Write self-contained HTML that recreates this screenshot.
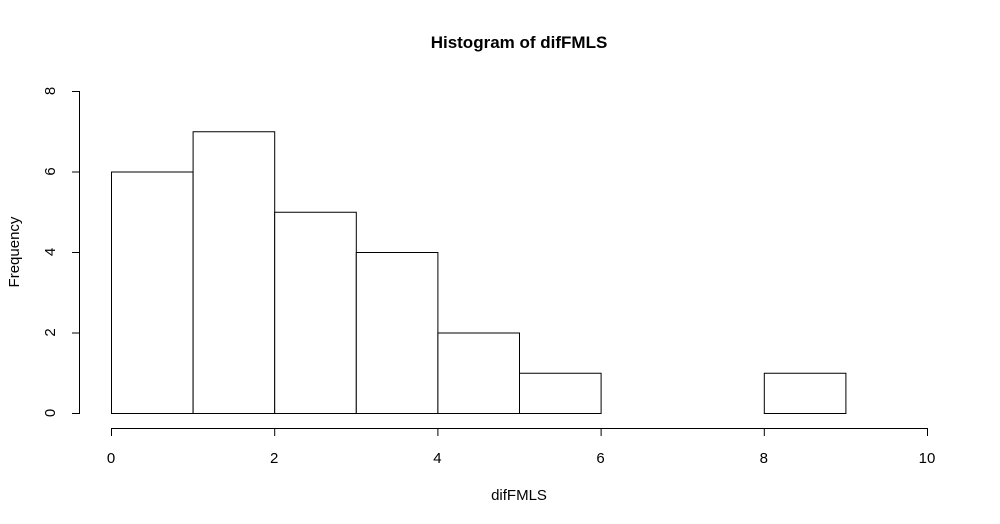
<!DOCTYPE html>
<html><head><meta charset="utf-8"><style>
body{margin:0;background:#fff}
svg{display:block;font-family:"Liberation Sans",Arial,sans-serif}
</style></head><body>
<svg id="chart" width="1000" height="524" viewBox="0 0 1000 524">
<rect width="1000" height="524" fill="#fff"/>
<text x="519" y="48" text-anchor="middle" font-size="17" font-weight="bold">Histogram of difFMLS</text>
<text x="519" y="500" text-anchor="middle" font-size="15">difFMLS</text>
<text x="19" y="252" text-anchor="middle" font-size="15" transform="rotate(-90 19 252)">Frequency</text>
<g id="bars"></g>
<g id="xaxis"></g>
<g id="yaxis"></g>
</svg>
<script>
const binStarts=[0,1,2,3,4,5,6,7,8];
const counts=[6,7,5,4,2,1,0,0,1];
const xTicks=[0,2,4,6,8,10];
const yTicks=[0,2,4,6,8];
const NS="http://www.w3.org/2000/svg";
function xs(v){return 111+v*81.6;}
function ys(v){return 413-v*40.25;}
function mk(tag,attrs,parent){const e=document.createElementNS(NS,tag);for(const k in attrs)e.setAttribute(k,attrs[k]);parent.appendChild(e);return e;}
const bars=document.getElementById('bars');
binStarts.forEach((b,i)=>{
  if(counts[i]<=0)return;
  const r=mk('rect',{x:xs(b)+0.5,y:ys(counts[i])+0.5,width:xs(b+1)-xs(b),height:ys(0)-ys(counts[i]),fill:'#fff',stroke:'#000','stroke-width':1},bars);
  
  
});
const xa=document.getElementById('xaxis');
mk('line',{x1:xs(xTicks[0]),x2:xs(xTicks[xTicks.length-1]),y1:428.5,y2:428.5,stroke:'#000'},xa);
xTicks.forEach(t=>{
  mk('line',{x1:xs(t)+0.5,x2:xs(t)+0.5,y1:428,y2:436,stroke:'#000'},xa);
  const tx=mk('text',{x:xs(t),y:463,'text-anchor':'middle','font-size':15},xa);
  tx.textContent=t;
  
  
});
const ya=document.getElementById('yaxis');
mk('line',{x1:79.5,x2:79.5,y1:ys(yTicks[yTicks.length-1]),y2:ys(yTicks[0]),stroke:'#000'},ya);
yTicks.forEach(t=>{
  mk('line',{x1:72,x2:80,y1:ys(t)+0.5,y2:ys(t)+0.5,stroke:'#000'},ya);
  const tx=mk('text',{x:55,y:ys(t),'text-anchor':'middle','font-size':15,transform:'rotate(-90 55 '+ys(t)+')'},ya);
  tx.textContent=t;
  
  
});
</script>
</body></html>
